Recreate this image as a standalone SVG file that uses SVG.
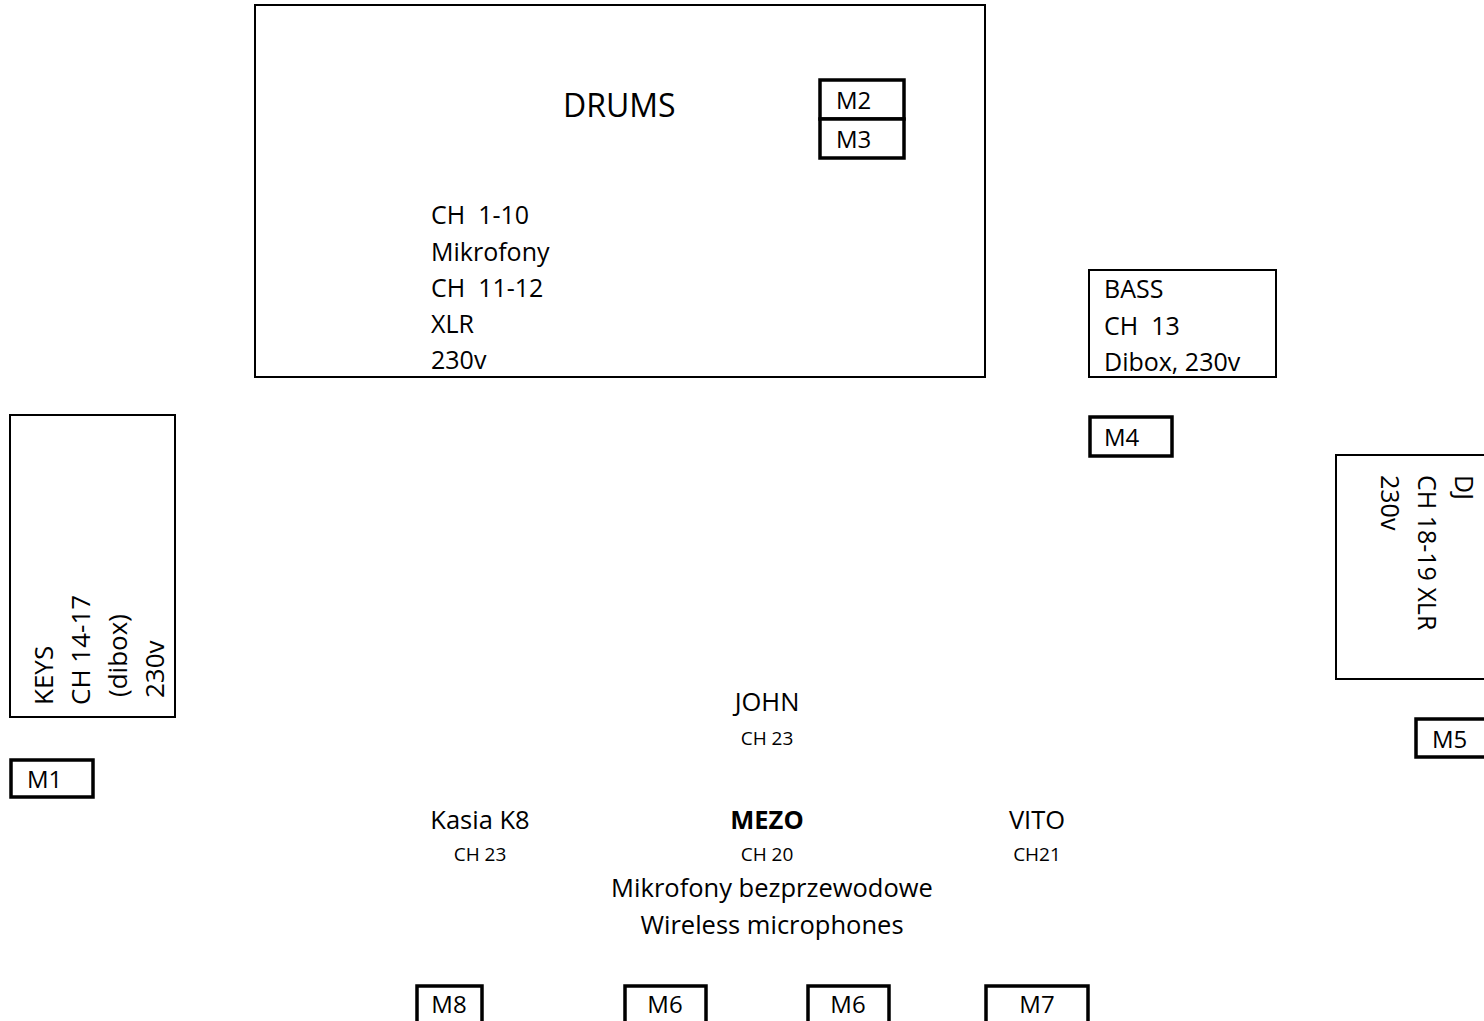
<svg xmlns="http://www.w3.org/2000/svg" width="1484" height="1021" viewBox="0 0 1484 1021">
<style>
  text { font-family: "Open Sans", "Liberation Sans", sans-serif; fill: #000; }
  .box { fill: #fff; stroke: #000; stroke-width: 2; }
  .mic { fill: #fff; stroke: #000; stroke-width: 3.5; }
  .body { font-size: 25px; }
  .keys { font-size: 26px; }
  .ml { font-size: 24px; }
  .lbl { font-size: 25.5px; text-anchor: middle; }
  .ch { font-size: 19px; text-anchor: middle; }
</style>
<rect width="1484" height="1021" fill="#fff"/>
<g id="connectors"></g>

<g id="drums">
  <rect class="box" x="255" y="5" width="730" height="372"/>
  <text x="563" y="117" font-size="32">DRUMS</text>
  <text class="body" xml:space="preserve" x="431" y="224">CH  1-10</text>
  <text class="body" x="431" y="261">Mikrofony</text>
  <text class="body" xml:space="preserve" x="431" y="297">CH  11-12</text>
  <text class="body" x="431" y="333">XLR</text>
  <text class="body" x="431" y="369">230v</text>
</g>
<g id="m2">
  <rect class="mic" x="820" y="80" width="84" height="39"/>
  <text class="ml" x="836" y="109">M2</text>
</g>
<g id="m3">
  <rect class="mic" x="820" y="119" width="84" height="39"/>
  <text class="ml" x="836" y="148">M3</text>
</g>

<g id="bass">
  <rect class="box" x="1089" y="270" width="187" height="107"/>
  <text class="body" x="1104" y="298">BASS</text>
  <text class="body" xml:space="preserve" x="1104" y="335">CH  13</text>
  <text class="body" x="1104" y="371">Dibox, 230v</text>
</g>
<g id="m4">
  <rect class="mic" x="1090" y="417" width="82" height="39"/>
  <text class="ml" x="1104" y="446">M4</text>
</g>

<g id="keys">
  <rect class="box" x="10" y="415" width="165" height="302"/>
  <text class="keys" transform="translate(53,705) rotate(-90)">KEYS</text>
  <text class="keys" transform="translate(90,705) rotate(-90)">CH 14-17</text>
  <text class="keys" transform="translate(127,697) rotate(-90)">(dibox)</text>
  <text class="keys" transform="translate(164,698) rotate(-90)">230v</text>
</g>
<g id="m1">
  <rect class="mic" x="11" y="760" width="82" height="37"/>
  <text class="ml" x="27" y="788">M1</text>
</g>

<g id="dj">
  <rect class="box" x="1336" y="455" width="160" height="224"/>
  <text class="body" transform="translate(1455,475) rotate(90)">DJ</text>
  <text class="body" transform="translate(1418,475) rotate(90)">CH 18-19 XLR</text>
  <text class="body" transform="translate(1381,475) rotate(90)">230v</text>
</g>
<g id="m5">
  <rect class="mic" x="1416" y="719" width="100" height="38"/>
  <text class="ml" x="1432" y="748">M5</text>
</g>

<g id="john">
  <text class="lbl" x="767" y="711">JOHN</text>
  <text class="ch" x="767" y="745">CH 23</text>
</g>
<g id="kasia">
  <text class="lbl" x="480" y="829">Kasia K8</text>
  <text class="ch" x="480" y="861">CH 23</text>
</g>
<g id="mezo">
  <text class="lbl" x="767" y="829" font-weight="bold">MEZO</text>
  <text class="ch" x="767" y="861">CH 20</text>
</g>
<g id="vito">
  <text class="lbl" x="1037" y="829">VITO</text>
  <text class="ch" x="1037" y="861">CH21</text>
</g>
<g id="wireless">
  <text class="lbl" x="772" y="897">Mikrofony bezprzewodowe</text>
  <text class="lbl" x="772" y="934">Wireless microphones</text>
</g>

<g id="m8">
  <rect class="mic" x="417" y="986" width="65" height="50"/>
  <text class="ml" x="449" y="1013" text-anchor="middle">M8</text>
</g>
<g id="m6a">
  <rect class="mic" x="625" y="986" width="81" height="50"/>
  <text class="ml" x="665" y="1013" text-anchor="middle">M6</text>
</g>
<g id="m6b">
  <rect class="mic" x="808" y="986" width="81" height="50"/>
  <text class="ml" x="848" y="1013" text-anchor="middle">M6</text>
</g>
<g id="m7">
  <rect class="mic" x="986" y="986" width="102" height="50"/>
  <text class="ml" x="1037" y="1013" text-anchor="middle">M7</text>
</g>
</svg>
